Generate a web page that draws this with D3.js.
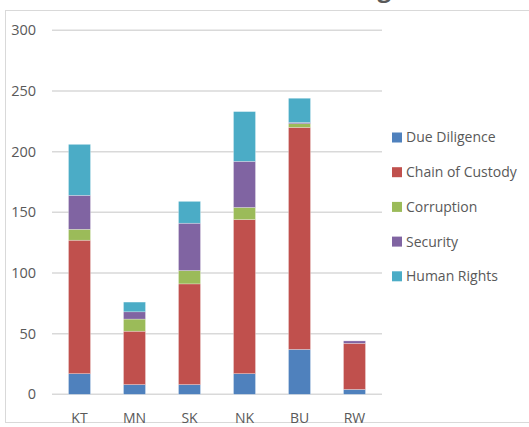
<!DOCTYPE html>
<html>
<head>
<meta charset="utf-8">
<script src="https://cdn.jsdelivr.net/npm/d3@7"></script>
<style>
  body { margin: 0; background: #fff; }
  svg { display: block; font-family: "Open Sans", "Liberation Sans", sans-serif; }
</style>
</head>
<body>
<svg id="svg" width="529" height="427"></svg>
<script>
const svg = d3.select("#svg");

// data
const regions = ["KT", "MN", "SK", "NK", "BU", "RW"];
const issues = ["Due Diligence", "Chain of Custody", "Corruption", "Security", "Human Rights"];
const dueDiligence = [17, 8, 8, 17, 37, 4];
const chainOfCustody = [110, 44, 83, 127, 183, 38];
const corruption = [9, 10, 11, 10, 3, 0];
const security = [28, 6, 39, 38, 1, 2];
const humanRights = [42, 8, 18, 41, 20, 0];
const yTicks = [0, 50, 100, 150, 200, 250, 300];
const colors = ["#4f81bd", "#c0504d", "#9bbb59", "#8064a2", "#4bacc6"];

const series = [dueDiligence, chainOfCustody, corruption, security, humanRights];
const rows = regions.map((r, i) => {
  const row = { region: r };
  issues.forEach((k, j) => row[k] = series[j][i]);
  return row;
});
const stacked = d3.stack().keys(issues)(rows);

// outer frame
svg.append("rect")
  .attr("x", 5.5).attr("y", 10.5)
  .attr("width", 540).attr("height", 412)
  .attr("fill", "none")
  .attr("stroke", "#d9d9d9");

// title, almost all of it above the visible area (only the g tail peeks in)
svg.append("text")
  .attr("x", 391).attr("y", -3.5)
  .attr("text-anchor", "end")
  .attr("font-size", 24)
  .attr("font-weight", 700)
  .attr("fill", "#595959")
  .text("Issues in Mining");

const x = d3.scaleBand()
  .domain(regions)
  .range([52, 382])
  .paddingInner(0.6)
  .paddingOuter(0.3);

const y = d3.scaleLinear()
  .domain([0, 300])
  .range([394.3, 30.3]);

// gridlines
svg.append("g")
  .selectAll("line")
  .data(yTicks)
  .join("line")
  .attr("x1", 52).attr("x2", 382)
  .attr("y1", d => y(d)).attr("y2", d => y(d))
  .attr("stroke", "#d9d9d9")
  .attr("stroke-width", 1.5);

// y labels
svg.append("g")
  .attr("text-anchor", "end")
  .selectAll("text")
  .data(yTicks)
  .join("text")
  .attr("x", 36)
  .attr("y", d => y(d))
  .attr("dy", "0.35em")
  .attr("font-size", 14.5)
  .attr("fill", "#595959")
  .text(d => d);

// bars
svg.append("g")
  .selectAll("g")
  .data(stacked)
  .join("g")
  .attr("fill", (d, i) => colors[i])
  .selectAll("rect")
  .data(d => d)
  .join("rect")
  .attr("x", d => x(d.data.region))
  .attr("width", x.bandwidth())
  .attr("y", d => y(d[1]))
  .attr("height", d => y(d[0]) - y(d[1]))
  .attr("stroke", "rgba(255,255,255,0.45)")
  .attr("stroke-width", 0.6);

// x labels
svg.append("g")
  .attr("text-anchor", "middle")
  .selectAll("text")
  .data(regions)
  .join("text")
  .attr("x", d => x(d) + x.bandwidth() / 2)
  .attr("y", 418)
  .attr("dy", "0.35em")
  .attr("font-size", 14)
  .attr("fill", "#595959")
  .text(d => d);

// legend
const legend = svg.append("g")
  .selectAll("g")
  .data(issues)
  .join("g")
  .attr("transform", (d, i) => `translate(392, ${137.5 + i * 34.7})`);

legend.append("rect")
  .attr("x", 0).attr("y", -5)
  .attr("width", 10).attr("height", 10)
  .attr("fill", (d, i) => colors[i]);

legend.append("text")
  .attr("x", 14)
  .attr("dy", "0.35em")
  .attr("font-size", 14)
  .attr("fill", "#595959")
  .text(d => d);
</script>
</body>
</html>
